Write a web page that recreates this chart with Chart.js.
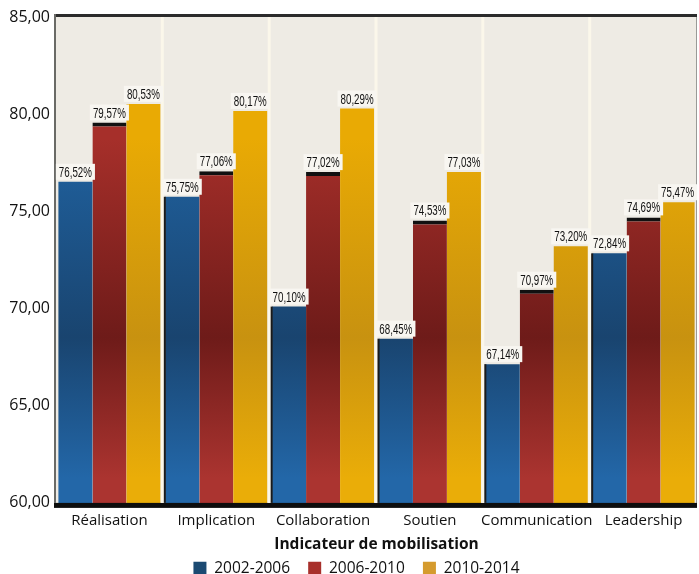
<!DOCTYPE html>
<html><head><meta charset="utf-8">
<script src="https://cdn.jsdelivr.net/npm/chart.js@4"></script>
<style>html,body{margin:0;padding:0;background:#fff;}#wrap{width:699px;height:574px;}</style>
</head><body><div id="wrap"><canvas id="c" width="699" height="574"></canvas></div>
<script>
const categories = ["Réalisation","Implication","Collaboration","Soutien","Communication","Leadership"];
const seriesNames = ["2002-2006","2006-2010","2010-2014"];
const s2002 = [76.52, 75.75, 70.10, 68.45, 67.14, 72.84];
const s2006 = [79.57, 77.06, 77.02, 74.53, 70.97, 74.69];
const s2010 = [80.53, 80.17, 80.29, 77.03, 73.20, 75.47];
const yTicks = [60,65,70,75,80,85];

const fmt = v => v.toFixed(2).replace('.', ',');
const stops = {
  blue: ['#2062a0','#19446f','#2367a8'],
  red: ['#a62f2a','#6e1b19','#ab3430'],
  yellow: ['#e9aa04','#c89210','#eaad08']
};
function grad(key){
  return function(ctx){
    const ch = ctx.chart, a = ch.chartArea;
    if(!a) return stops[key][0];
    const g = ch.ctx.createLinearGradient(0, a.top, 0, a.bottom);
    g.addColorStop(0.25, stops[key][0]);
    g.addColorStop(0.66, stops[key][1]);
    g.addColorStop(0.95, stops[key][2]);
    return g;
  };
}

const frame = {
  id:'frame',
  afterLayout(ch){
    if (ch.legend) { ch.legend.left += 8; ch.legend.right += 8; }
  },
  beforeDraw(ch){
    const {ctx, chartArea:a} = ch;
    ctx.save();
    ctx.fillStyle = '#eeebe4';
    ctx.fillRect(a.left, a.top, a.right-a.left, a.bottom-a.top);
    ctx.restore();
  },
  afterDatasetsDraw(ch){
    const {ctx, chartArea:a} = ch;
    ctx.save();
    ctx.fillStyle = '#2b2b2b';
    ctx.fillRect(a.left, a.top-3, a.right-a.left, 3);
    ctx.fillStyle = '#6a6a66';
    ctx.fillRect(a.left-2, a.top-3, 2, a.bottom-a.top+3);
    ctx.fillStyle = '#9a9a96';
    ctx.fillRect(a.right-1, a.top, 1, a.bottom-a.top);
    ctx.fillStyle = '#0d0d0d';
    ctx.fillRect(a.left-2, a.bottom, a.right-a.left+2, 5);
    const xs = ch.scales.x, ys = ch.scales.y;
    for(let i=1;i<categories.length;i++){
      const x = (xs.getPixelForValue(i-1)+xs.getPixelForValue(i))/2;
      ctx.fillStyle = '#fbf7ea';
      ctx.fillRect(x-2, a.top, 3, a.bottom-a.top);
      const yt = ys.getPixelForValue(s2002[i]);
      ctx.fillStyle = '#1a1a1a';
      ctx.fillRect(x+1, yt, 2, a.bottom-yt);
    }
    ctx.font = '15px "Liberation Sans", sans-serif';
    ctx.textAlign = 'center';
    ctx.textBaseline = 'alphabetic';
    const sx = 0.65;
    ch.data.datasets.forEach((ds, di) => {
      const meta = ch.getDatasetMeta(di);
      meta.data.forEach((el, i) => {
        const t = fmt(ds.data[i]) + '%';
        const w = ctx.measureText(t).width * sx;
        const y = el.y - 5;
        ctx.fillStyle = '#f8f6f1';
        ctx.fillRect(el.x - w/2 - 3, y - 13, w + 6, 16);
        ctx.save();
        ctx.translate(el.x, y);
        ctx.scale(sx, 1);
        ctx.fillStyle = '#111';
        ctx.fillText(t, 0, 0);
        ctx.restore();
      });
    });
    ctx.restore();
  }
};

new Chart(document.getElementById('c'), {
  type:'bar',
  data:{
    labels: categories,
    datasets:[
      {label: seriesNames[0], data: s2002, backgroundColor: grad('blue'), borderWidth:0},
      {label: seriesNames[1], data: s2006, backgroundColor: grad('red'), borderColor:'#111', borderWidth:{top:4,left:0,right:0,bottom:0}, borderSkipped:'bottom'},
      {label: seriesNames[2], data: s2010, backgroundColor: grad('yellow'), borderWidth:0}
    ]
  },
  options:{
    responsive:false,
    animation:false,
    datasets:{bar:{categoryPercentage:0.955, barPercentage:1.0}},
    layout:{padding:{top:17, right:2, left:0, bottom:-12}},
    plugins:{
      tooltip:{enabled:false},
      legend:{
        position:'bottom',
        labels:{
          boxWidth:13, boxHeight:13, padding:2, color:'#111',
          font:{family:'"Open Sans", sans-serif', size:15.5},
          generateLabels(ch){
            const cols = ['#1b4a72','#a8302b','#d59b2e'];
            return ch.data.datasets.map((d,i)=>({text: d.label + (i < 2 ? '    ' : ''), fillStyle:cols[i], strokeStyle:cols[i], lineWidth:0, datasetIndex:i, fontColor:'#111'}));
          }
        }
      }
    },
    scales:{
      y:{
        min:60, max:85,
        afterBuildTicks(s){ s.ticks = yTicks.map(v=>({value:v})); },
        afterFit(s){ s.width = 56; },
        grid:{display:false, drawTicks:false},
        border:{display:false},
        ticks:{color:'#111', padding:6, font:{family:'"Open Sans", sans-serif', size:16}, callback:v=>fmt(v)}
      },
      x:{
        grid:{display:false, drawTicks:false},
        border:{display:false},
        ticks:{color:'#111', padding:9, maxRotation:0, minRotation:0, autoSkip:false, font:{family:'"Open Sans", sans-serif', size:15}},
        title:{display:true, text:'Indicateur de mobilisation', color:'#111', padding:{top:-4,bottom:5}, font:{family:'"Open Sans", sans-serif', size:15.5, weight:'bold'}}
      }
    }
  },
  plugins:[frame]
});
</script></body></html>
